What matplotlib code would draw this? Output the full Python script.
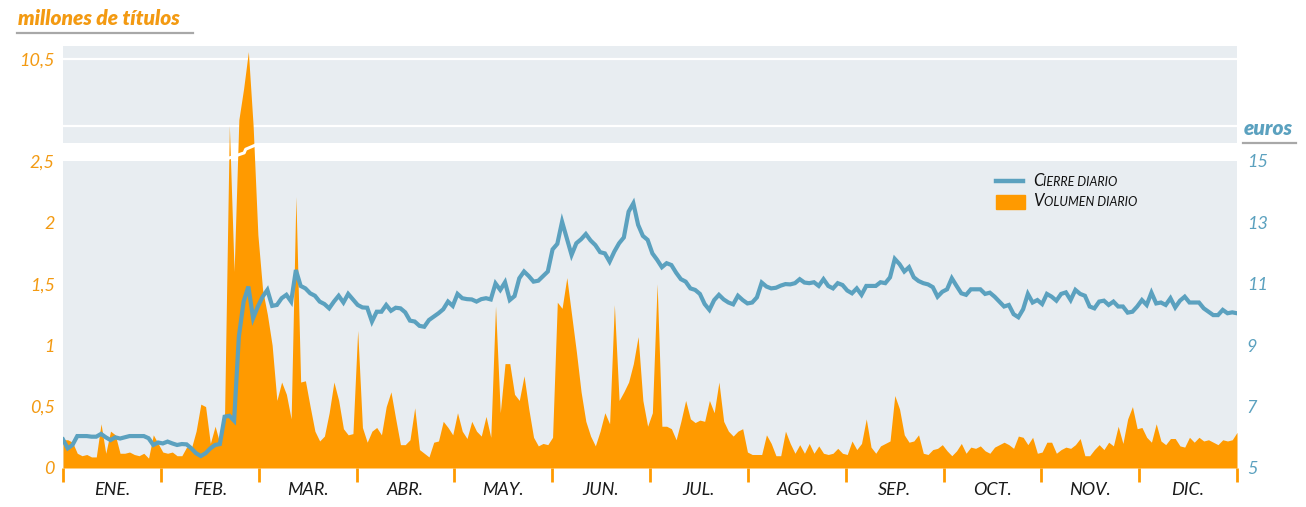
import numpy as np
import matplotlib
matplotlib.use("Agg")
import matplotlib.pyplot as plt
from matplotlib.lines import Line2D
from matplotlib.patches import Rectangle

# ---- datos ----
meses = ["ENE.", "FEB.", "MAR.", "ABR.", "MAY.", "JUN.",
         "JUL.", "AGO.", "SEP.", "OCT.", "NOV.", "DIC."]

volumen_ene_feb = [0.23, 0.23, 0.21, 0.12, 0.10, 0.11, 0.09, 0.09, 0.36, 0.12, 0.30, 0.27, 0.12, 0.12,
                   0.13, 0.11, 0.10, 0.12, 0.08, 0.27, 0.20, 0.13, 0.12, 0.13, 0.10, 0.10, 0.17, 0.16,
                   0.30, 0.52, 0.50, 0.20, 0.34, 0.20, 0.45, 6.0, 1.6, 6.4, 8.5, 11.0, 6.0]
volumen_mar_abr = [1.9, 1.45, 1.25, 1.0, 0.55, 0.70, 0.60, 0.40, 2.21, 0.70, 0.71, 0.50, 0.30, 0.22,
                   0.26, 0.45, 0.70, 0.55, 0.32, 0.27, 0.28, 1.12, 0.33, 0.21, 0.30, 0.33, 0.27, 0.50,
                   0.62, 0.40, 0.19, 0.19, 0.23, 0.49, 0.15, 0.12, 0.09, 0.21, 0.22, 0.38, 0.33, 0.27]
volumen_may_jun = [0.45, 0.30, 0.24, 0.38, 0.30, 0.26, 0.42, 0.25, 1.32, 0.45, 0.85, 0.85, 0.60, 0.55,
                   0.75, 0.48, 0.25, 0.18, 0.20, 0.19, 0.25, 1.35, 1.30, 1.55, 1.25, 0.95, 0.62, 0.38,
                   0.26, 0.18, 0.30, 0.45, 0.36, 1.33, 0.55, 0.62, 0.70, 0.85, 1.07, 0.55, 0.34, 0.45]
volumen_jul_ago = [1.50, 0.34, 0.34, 0.32, 0.23, 0.38, 0.55, 0.40, 0.37, 0.39, 0.38, 0.55, 0.45, 0.70,
                   0.38, 0.30, 0.26, 0.30, 0.32, 0.13, 0.11, 0.11, 0.11, 0.27, 0.20, 0.10, 0.10, 0.30,
                   0.20, 0.12, 0.19, 0.12, 0.20, 0.12, 0.18, 0.12, 0.11, 0.12, 0.16, 0.12, 0.11]
volumen_sep_oct = [0.22, 0.15, 0.20, 0.40, 0.17, 0.12, 0.18, 0.20, 0.22, 0.59, 0.48, 0.27, 0.21, 0.22,
                   0.27, 0.12, 0.11, 0.15, 0.16, 0.19, 0.14, 0.10, 0.14, 0.20, 0.12, 0.17, 0.16, 0.18,
                   0.14, 0.12, 0.17, 0.19, 0.21, 0.19, 0.16, 0.26, 0.25, 0.19, 0.25, 0.12, 0.13]
volumen_nov_dic = [0.21, 0.21, 0.12, 0.15, 0.17, 0.16, 0.19, 0.24, 0.10, 0.10, 0.15, 0.19, 0.15, 0.21,
                   0.18, 0.34, 0.20, 0.40, 0.50, 0.32, 0.33, 0.25, 0.21, 0.36, 0.22, 0.19, 0.24, 0.24,
                   0.18, 0.17, 0.25, 0.21, 0.25, 0.22, 0.23, 0.21, 0.19, 0.23, 0.22, 0.23, 0.29]

cierre_ene_feb = [5.93, 5.64, 5.75, 6.04, 6.04, 6.04, 6.02, 6.02, 6.11, 6.00, 5.91, 6.00, 5.96, 6.00,
                  6.04, 6.04, 6.04, 6.04, 5.97, 5.75, 5.83, 5.80, 5.86, 5.80, 5.75, 5.78, 5.77, 5.64,
                  5.48, 5.39, 5.48, 5.64, 5.75, 5.78, 6.67, 6.70, 6.54, 9.28, 10.42, 10.91, 9.88]
cierre_mar_abr = [10.26, 10.58, 10.80, 10.28, 10.31, 10.53, 10.64, 10.42, 11.45, 10.93, 10.85, 10.69,
                  10.61, 10.42, 10.34, 10.20, 10.42, 10.61, 10.39, 10.67, 10.49, 10.31, 10.23, 10.22,
                  9.77, 10.09, 10.09, 10.31, 10.12, 10.22, 10.20, 10.07, 9.80, 9.77, 9.63, 9.60, 9.82,
                  9.93, 10.04, 10.17, 10.42, 10.28]
cierre_may_jun = [10.67, 10.53, 10.50, 10.49, 10.42, 10.50, 10.53, 10.49, 11.01, 10.80, 11.05, 10.47,
                  10.60, 11.18, 11.40, 11.25, 11.07, 11.10, 11.25, 11.40, 12.12, 12.30, 13.02, 12.48,
                  11.94, 12.32, 12.45, 12.62, 12.41, 12.26, 12.03, 11.99, 11.72, 12.05, 12.32, 12.51,
                  13.35, 13.62, 12.92, 12.56, 12.43, 11.99]
cierre_jul_ago = [11.78, 11.54, 11.67, 11.61, 11.36, 11.15, 11.07, 10.85, 10.80, 10.67, 10.34, 10.15,
                  10.47, 10.64, 10.49, 10.39, 10.33, 10.61, 10.47, 10.36, 10.39, 10.56, 11.04, 10.91,
                  10.85, 10.87, 10.94, 10.99, 10.98, 11.02, 11.15, 11.04, 11.02, 11.05, 10.93, 11.15,
                  10.93, 10.85, 11.02, 10.96, 10.78]
cierre_sep_oct = [10.69, 10.85, 10.64, 10.93, 10.93, 10.93, 11.05, 11.02, 11.21, 11.81, 11.64, 11.40,
                  11.54, 11.21, 11.09, 11.02, 10.98, 10.89, 10.58, 10.74, 10.82, 11.18, 10.93, 10.69,
                  10.64, 10.82, 10.82, 10.82, 10.67, 10.71, 10.58, 10.42, 10.26, 10.31, 10.01, 9.91,
                  10.17, 10.67, 10.39, 10.47, 10.34]
cierre_nov_dic = [10.67, 10.58, 10.45, 10.67, 10.72, 10.47, 10.80, 10.67, 10.61, 10.26, 10.20, 10.42,
                  10.45, 10.31, 10.42, 10.26, 10.26, 10.06, 10.09, 10.26, 10.47, 10.31, 10.71, 10.36,
                  10.39, 10.31, 10.53, 10.23, 10.45, 10.58, 10.39, 10.39, 10.39, 10.20, 10.09, 9.98,
                  9.98, 10.15, 10.04, 10.07, 10.04]

volumen = np.array(volumen_ene_feb + volumen_mar_abr + volumen_may_jun +
                   volumen_jul_ago + volumen_sep_oct + volumen_nov_dic)
cierre = np.array(cierre_ene_feb + cierre_mar_abr + cierre_may_jun +
                  cierre_jul_ago + cierre_sep_oct + cierre_nov_dic)
x = np.linspace(0, 12, len(volumen))

vol_ticks = [0, 0.5, 1, 1.5, 2, 2.5, 10.5]
vol_labels = ["0", "0,5", "1", "1,5", "2", "2,5", "10,5"]
eur_ticks = [5, 7, 9, 11, 13, 15]

# ---- colores ----
NARANJA = "#ff9a00"
NARANJA_TXT = "#f39a12"
AZUL = "#5ba1bf"
FONDO = "#e8edf1"

# ---- escala cortada (eje de volumen) ----
PX = 122.8            # px por unidad en la parte baja
GAP = 18 / PX         # hueco blanco
K = 14.78 / PX        # escala comprimida de la parte alta
LO = 4.82             # valor en la base del panel alto
HI = 11.38
GRID_ALTO = 6.0


def fwd(v):
    v = np.asarray(v, dtype=float)
    return np.where(v <= 2.5, v,
                    np.where(v <= LO, 2.5 + (v - 2.5) / (LO - 2.5) * GAP,
                             2.5 + GAP + (v - LO) * K))


def inv(u):
    u = np.asarray(u, dtype=float)
    return np.where(u <= 2.5, u,
                    np.where(u <= 2.5 + GAP, 2.5 + (u - 2.5) / GAP * (LO - 2.5),
                             LO + (u - 2.5 - GAP) / K))


plt.rcParams['font.family'] = ['Lato', 'DejaVu Sans']

W, H = 1306, 507
fig = plt.figure(figsize=(W / 100, H / 100), dpi=100)
ax = fig.add_axes([63 / W, 39 / H, 1174 / W, 422 / H])
ax.set_yscale('function', functions=(fwd, inv))
ax.set_ylim(0, HI)
ax.set_xlim(0, 12)
ax.set_facecolor(FONDO)
for s in ax.spines.values():
    s.set_visible(False)

# hueco blanco y lineas del panel alto
ax.axhspan(2.5, LO, color="white", lw=0, zorder=1)
ax.axhline(10.5, color="white", lw=1.6, zorder=1)
ax.axhline(GRID_ALTO, color="white", lw=1.6, zorder=1)

ax.fill_between(x, 0, volumen, color=NARANJA, lw=0, zorder=2)

# marcas de corte sobre los picos
altos = x[volumen > 2.5]
x0, x1 = altos.min() - 0.01, altos.max() + 0.03
xm = (x0 + x1) / 2 + 0.02
g = lambda f: 2.5 + f * (LO - 2.5)
ax.plot([x0, xm, xm + 0.015, x1], [g(0.15), g(0.45), g(0.65), g(0.9)],
        color="white", lw=2.2, zorder=3, solid_capstyle="butt")

ax.set_yticks(vol_ticks)
ax.set_yticklabels(vol_labels)
ax.tick_params(axis="y", length=0, pad=6, labelsize=13, labelcolor=NARANJA_TXT)
for t in ax.get_yticklabels():
    t.set_fontstyle("italic")

ax.set_xticks(range(13))
ax.set_xticklabels([])
ax.set_xticks(np.arange(12) + 0.5, minor=True)
ax.set_xticklabels(meses, minor=True, fontsize=13, fontstyle="italic", color="#1a1a1a")
ax.tick_params(axis="x", which="major", length=10, width=2, color=NARANJA, direction="out")
ax.tick_params(axis="x", which="minor", length=0, pad=10)

# eje de euros
ax2 = ax.twinx()
ax2.set_ylim(5, 5 + 10 * fwd(HI) / 2.5)
ax2.plot(x, cierre, color=AZUL, lw=3, solid_joinstyle="miter", zorder=4)
ax2.set_yticks(eur_ticks)
ax2.set_yticklabels([str(t) for t in eur_ticks])
ax2.tick_params(axis="y", length=0, pad=7, labelsize=13, labelcolor=AZUL)
for t in ax2.get_yticklabels():
    t.set_fontstyle("italic")
for s in ax2.spines.values():
    s.set_visible(False)

# titulos de eje
fig.text(18 / W, 1 - 25 / H, "millones de títulos", fontsize=15, fontweight="heavy",
         fontstyle="italic", color=NARANJA_TXT, va="baseline", ha="left")
fig.add_artist(Line2D([17 / W, 193 / W], [1 - 33 / H, 1 - 33 / H], color="#a8a8a8", lw=1.6))
fig.text(1244 / W, 1 - 135 / H, "euros", fontsize=15, fontweight="heavy",
         fontstyle="italic", color=AZUL, va="baseline", ha="left")
fig.add_artist(Line2D([1243 / W, 1296 / W], [1 - 143 / H, 1 - 143 / H], color="#a8a8a8", lw=1.6))

# leyenda (versalitas)
fig.add_artist(Line2D([996 / W, 1023 / W], [1 - 181 / H, 1 - 181 / H], color=AZUL, lw=3.2))
fig.add_artist(Rectangle((996 / W, 1 - 209 / H), 29 / W, 14 / H, color=NARANJA,
                         transform=fig.transFigure))
fig.canvas.draw()
rend = fig.canvas.get_renderer()
for (grande, resto), yb in [(("C", "IERRE DIARIO"), 186), (("V", "OLUMEN DIARIO"), 206.5)]:
    t = fig.text(1033 / W, 1 - yb / H, grande, fontsize=12, fontstyle="italic",
                 color="#111111", va="baseline")
    bb = t.get_window_extent(renderer=rend)
    fig.text(bb.x1 / W, 1 - yb / H, resto, fontsize=9, fontstyle="italic",
             color="#111111", va="baseline")

fig.savefig("out.png", dpi=100)
